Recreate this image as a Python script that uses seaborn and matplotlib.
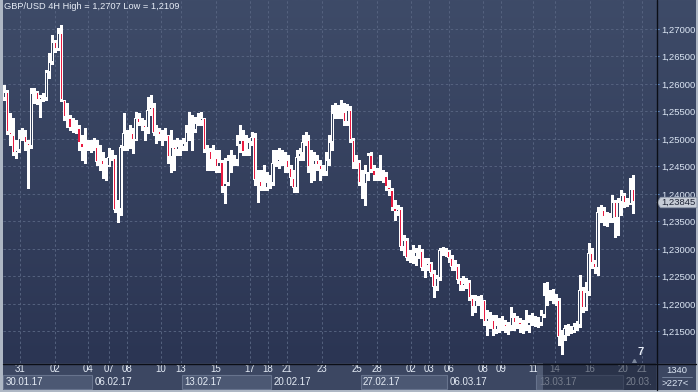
import numpy as np
import pandas as pd
import matplotlib
matplotlib.use("Agg")
from matplotlib import pyplot as plt
from matplotlib.colors import LinearSegmentedColormap
from matplotlib.patches import Rectangle, Polygon
from matplotlib.lines import Line2D
from matplotlib.ticker import FuncFormatter
import matplotlib.transforms as mtransforms
import seaborn as sns

# GBP/USD 4H candles
first_open = 1.2575
closes = [1.2585, 1.2513, 1.2507, 1.2475, 1.2480, 1.2502, 1.2505, 1.2493, 1.2487, 1.2584,
          1.2585, 1.2571, 1.2576, 1.2575, 1.2622, 1.2640, 1.2676, 1.2664, 1.2693, 1.2571,
          1.2540, 1.2538, 1.2520, 1.2522, 1.2520, 1.2493, 1.2484, 1.2485, 1.2485, 1.2489,
          1.2485, 1.2458, 1.2462, 1.2453, 1.2451, 1.2467, 1.2465, 1.2371, 1.2373, 1.2485,
          1.2511, 1.2507, 1.2511, 1.2498, 1.2538, 1.2529, 1.2525, 1.2520, 1.2553, 1.2558,
          1.2511, 1.2515, 1.2507, 1.2504, 1.2507, 1.2467, 1.2485, 1.2480, 1.2487, 1.2485,
          1.2493, 1.2513, 1.2515, 1.2516, 1.2529, 1.2533, 1.2538, 1.2480, 1.2478, 1.2462,
          1.2465, 1.2449, 1.2458, 1.2413, 1.2420, 1.2462, 1.2458, 1.2462, 1.2489, 1.2498,
          1.2476, 1.2480, 1.2495, 1.2504, 1.2425, 1.2423, 1.2413, 1.2411, 1.2422, 1.2420,
          1.2456, 1.2458, 1.2464, 1.2465, 1.2462, 1.2447, 1.2429, 1.2411, 1.2467, 1.2475,
          1.2495, 1.2498, 1.2449, 1.2453, 1.2462, 1.2453, 1.2444, 1.2440, 1.2462, 1.2495,
          1.2547, 1.2549, 1.2547, 1.2549, 1.2531, 1.2553, 1.2498, 1.2456, 1.2458, 1.2420,
          1.2418, 1.2438, 1.2471, 1.2444, 1.2433, 1.2435, 1.2431, 1.2433, 1.2413, 1.2407,
          1.2375, 1.2367, 1.2373, 1.2304, 1.2316, 1.2284, 1.2287, 1.2285, 1.2295, 1.2296,
          1.2265, 1.2269, 1.2275, 1.2256, 1.2231, 1.2247, 1.2298, 1.2300, 1.2296, 1.2284,
          1.2267, 1.2269, 1.2244, 1.2233, 1.2238, 1.2240, 1.2211, 1.2195, 1.2207, 1.2205,
          1.2208, 1.2167, 1.2175, 1.2171, 1.2153, 1.2162, 1.2165, 1.2164, 1.2158, 1.2160,
          1.2176, 1.2165, 1.2167, 1.2162, 1.2158, 1.2160, 1.2167, 1.2171, 1.2169, 1.2165,
          1.2180, 1.2216, 1.2218, 1.2215, 1.2211, 1.2207, 1.2140, 1.2142, 1.2156, 1.2153,
          1.2151, 1.2160, 1.2162, 1.2225, 1.2193, 1.2222, 1.2293, 1.2275, 1.2265, 1.2367,
          1.2371, 1.2358, 1.2356, 1.2355, 1.2385, 1.2356, 1.2385, 1.2398, 1.2384, 1.2382,
          1.2409, 1.2385]
highs = [1.2598, 1.2589, 1.2547, 1.2538, 1.2498, 1.2516, 1.2520, 1.2516, 1.2498, 1.2593,
         1.2593, 1.2587, 1.2580, 1.2584, 1.2625, 1.2656, 1.2689, 1.2680, 1.2702, 1.2707,
         1.2571, 1.2565, 1.2544, 1.2538, 1.2535, 1.2525, 1.2507, 1.2520, 1.2498, 1.2498,
         1.2502, 1.2498, 1.2489, 1.2476, 1.2465, 1.2484, 1.2480, 1.2471, 1.2389, 1.2489,
         1.2547, 1.2516, 1.2525, 1.2520, 1.2549, 1.2547, 1.2538, 1.2535, 1.2576, 1.2580,
         1.2565, 1.2525, 1.2520, 1.2516, 1.2520, 1.2507, 1.2516, 1.2498, 1.2502, 1.2498,
         1.2502, 1.2525, 1.2549, 1.2544, 1.2540, 1.2547, 1.2549, 1.2538, 1.2489, 1.2484,
         1.2489, 1.2480, 1.2480, 1.2462, 1.2465, 1.2471, 1.2480, 1.2471, 1.2507, 1.2525,
         1.2516, 1.2507, 1.2502, 1.2513, 1.2511, 1.2444, 1.2444, 1.2453, 1.2440, 1.2435,
         1.2480, 1.2480, 1.2484, 1.2480, 1.2476, 1.2471, 1.2453, 1.2444, 1.2480, 1.2484,
         1.2507, 1.2513, 1.2507, 1.2480, 1.2476, 1.2471, 1.2462, 1.2453, 1.2476, 1.2507,
         1.2562, 1.2565, 1.2562, 1.2571, 1.2565, 1.2564, 1.2560, 1.2502, 1.2471, 1.2462,
         1.2444, 1.2453, 1.2475, 1.2476, 1.2453, 1.2447, 1.2471, 1.2444, 1.2440, 1.2425,
         1.2411, 1.2389, 1.2380, 1.2376, 1.2325, 1.2320, 1.2298, 1.2307, 1.2302, 1.2307,
         1.2300, 1.2284, 1.2284, 1.2276, 1.2262, 1.2253, 1.2302, 1.2304, 1.2302, 1.2298,
         1.2289, 1.2280, 1.2273, 1.2247, 1.2251, 1.2247, 1.2244, 1.2216, 1.2216, 1.2215,
         1.2216, 1.2207, 1.2189, 1.2185, 1.2180, 1.2180, 1.2175, 1.2178, 1.2171, 1.2167,
         1.2195, 1.2184, 1.2178, 1.2175, 1.2171, 1.2189, 1.2180, 1.2184, 1.2178, 1.2176,
         1.2189, 1.2238, 1.2240, 1.2225, 1.2227, 1.2218, 1.2211, 1.2153, 1.2162, 1.2164,
         1.2160, 1.2165, 1.2169, 1.2253, 1.2231, 1.2240, 1.2311, 1.2302, 1.2280, 1.2376,
         1.2380, 1.2376, 1.2367, 1.2365, 1.2398, 1.2389, 1.2393, 1.2407, 1.2402, 1.2393,
         1.2429, 1.2435]
lows = [1.2571, 1.2509, 1.2489, 1.2471, 1.2465, 1.2476, 1.2498, 1.2480, 1.2411, 1.2484,
        1.2565, 1.2564, 1.2540, 1.2569, 1.2571, 1.2611, 1.2636, 1.2658, 1.2662, 1.2569,
        1.2535, 1.2522, 1.2516, 1.2513, 1.2511, 1.2480, 1.2462, 1.2456, 1.2480, 1.2476,
        1.2480, 1.2453, 1.2444, 1.2429, 1.2425, 1.2451, 1.2462, 1.2367, 1.2349, 1.2362,
        1.2480, 1.2480, 1.2484, 1.2475, 1.2498, 1.2525, 1.2516, 1.2498, 1.2511, 1.2544,
        1.2507, 1.2493, 1.2498, 1.2489, 1.2498, 1.2456, 1.2440, 1.2444, 1.2471, 1.2471,
        1.2480, 1.2480, 1.2498, 1.2480, 1.2513, 1.2525, 1.2525, 1.2476, 1.2444, 1.2444,
        1.2444, 1.2440, 1.2440, 1.2404, 1.2384, 1.2416, 1.2440, 1.2453, 1.2453, 1.2476,
        1.2471, 1.2471, 1.2471, 1.2489, 1.2416, 1.2385, 1.2407, 1.2407, 1.2407, 1.2411,
        1.2416, 1.2451, 1.2447, 1.2453, 1.2440, 1.2440, 1.2416, 1.2404, 1.2404, 1.2462,
        1.2462, 1.2489, 1.2440, 1.2422, 1.2425, 1.2444, 1.2425, 1.2435, 1.2435, 1.2453,
        1.2480, 1.2538, 1.2538, 1.2538, 1.2525, 1.2525, 1.2495, 1.2447, 1.2447, 1.2416,
        1.2393, 1.2380, 1.2425, 1.2440, 1.2425, 1.2425, 1.2425, 1.2422, 1.2407, 1.2398,
        1.2371, 1.2353, 1.2362, 1.2298, 1.2289, 1.2280, 1.2276, 1.2275, 1.2271, 1.2284,
        1.2262, 1.2249, 1.2262, 1.2251, 1.2213, 1.2225, 1.2244, 1.2289, 1.2287, 1.2276,
        1.2262, 1.2262, 1.2238, 1.2225, 1.2225, 1.2229, 1.2207, 1.2180, 1.2185, 1.2198,
        1.2175, 1.2162, 1.2144, 1.2156, 1.2144, 1.2147, 1.2149, 1.2153, 1.2149, 1.2145,
        1.2153, 1.2153, 1.2156, 1.2149, 1.2147, 1.2153, 1.2149, 1.2162, 1.2160, 1.2158,
        1.2162, 1.2176, 1.2198, 1.2207, 1.2202, 1.2198, 1.2125, 1.2109, 1.2135, 1.2144,
        1.2147, 1.2149, 1.2153, 1.2158, 1.2185, 1.2189, 1.2216, 1.2265, 1.2256, 1.2253,
        1.2349, 1.2344, 1.2342, 1.2349, 1.2349, 1.2322, 1.2325, 1.2362, 1.2376, 1.2378,
        1.2382, 1.2365]

day_labels = ['31', '02', '04', '07', '08', '10', '13', '15', '17', '18', '21', '23',
              '25', '28', '02', '03', '06', '08', '09', '11', '14', '16', '20', '21']
day_idx = [5.2, 16.9, 28.0, 35.1, 41.1, 52.5, 59.2, 71.0, 82.4, 88.4, 94.8, 106.5,
           118.3, 125.0, 136.4, 142.4, 149.2, 160.6, 166.6, 177.3, 184.7, 196.5, 207.6, 213.9]
week_labels = ['30.01.17', '06.02.17', '13.02.17', '20.02.17',
               '27.02.17', '06.03.17', '13.03.17', '20.03.']
week_start = [0, 30, 60, 90, 120, 149, 179, 208]
price_ticks = [1.215, 1.220, 1.225, 1.230, 1.235, 1.240, 1.245, 1.250,
               1.255, 1.260, 1.265, 1.270]
last_price = 1.23845
title = 'GBP/USD 4H High = 1,2707 Low = 1,2109'

sns.set_style("dark")
plt.rcParams['font.family'] = ['Liberation Sans', 'DejaVu Sans']

df = pd.DataFrame({'close': closes, 'high': highs, 'low': lows})
df['open'] = [first_open] + closes[:-1]
df['high'] = np.maximum(df.high, df[['open', 'close']].max(axis=1))
df['low'] = np.minimum(df.low, df[['open', 'close']].min(axis=1))
df['up'] = df.close >= df.open
x = np.arange(len(df))

W, H = 698, 392
fig = plt.figure(figsize=(W / 100, H / 100), dpi=100, facecolor='#aeb7c4')


def box(x0, y0, x1, y1):
    return [x0 / W, 1 - y1 / H, (x1 - x0) / W, (y1 - y0) / H]


# gradient background behind chart + price scale
bg = fig.add_axes(box(3, 0, 696, 363))
cmap = LinearSegmentedColormap.from_list('bg', ['#2b3553', '#3e4b68'])
bg.imshow(np.linspace(0, 1, 256).reshape(-1, 1), cmap=cmap, aspect='auto',
          origin='lower', extent=[0, 1, 0, 1])
bg.axis('off')

XMIN, XMAX = -0.5, 218.6
YMIN, YMAX = 1.20927, 1.27527
PX = (YMAX - YMIN) / 363  # one pixel in price units

ax = fig.add_axes(box(3, 0, 656, 363))
ax.set_facecolor('none')
ax.set_xlim(XMIN, XMAX)
ax.set_ylim(YMIN, YMAX)
for s in ax.spines.values():
    s.set_visible(False)
ax.set_yticks(price_ticks)
ax.set_xticks(day_idx)
ax.yaxis.set_major_formatter(FuncFormatter(lambda v, _: f"{v:.5f}".replace('.', ',')))
ax.yaxis.tick_right()
ax.tick_params(axis='y', length=2, width=0.8, color='#6f9fe0', pad=2,
               labelsize=6.8, labelcolor='#dce6f4', right=True, left=False)
ax.tick_params(axis='x', length=0, labelbottom=False)
ax.grid(True, color='#55627f', linestyle=(0, (2.5, 2.5)), linewidth=0.7)
ax.set_axisbelow(True)

# candles: wick, white body frame, coloured core
ax.vlines(x, df.low, df.high, color='white', linewidth=0.75, zorder=3, antialiased=False)
top = df[['open', 'close']].max(axis=1)
bottom = df[['open', 'close']].min(axis=1)
outer = (top - bottom).clip(lower=PX)
ax.bar(x, outer, bottom=bottom, width=0.95, color='white', linewidth=0,
       zorder=4, antialiased=False)
inner = (top - bottom - 2 * PX)
core = inner > 0
fill = np.where(df.up, '#33405d', '#ea1a40')
ax.bar(x[core], inner[core], bottom=bottom[core] + PX, width=0.4,
       color=fill[core], linewidth=0, zorder=5, antialiased=False)

fig.text(4 / W, 1 - 2 / H, title, ha='left', va='top', fontsize=6.7, color='#e6ecf6')

# last price marker
tr = mtransforms.blended_transform_factory(ax.transAxes, ax.transData)
dy = 0.00095
ax.add_patch(Polygon([[1.0015, last_price], [1.007, last_price + dy], [1.0628, last_price + dy],
                      [1.0628, last_price - dy], [1.007, last_price - dy]],
                     closed=True, transform=tr, facecolor='#c6ccd6', edgecolor='#8d97a8',
                     linewidth=0.6, clip_on=False, zorder=6))
ax.text(1.035, last_price, f"{last_price:.5f}".replace('.', ','), transform=tr,
        ha='center', va='center', fontsize=6.8, color='#1c2233', zorder=7)

ax.text((641 - 3) / 653, 0.016, '7', transform=ax.transAxes, ha='center', va='bottom',
        fontsize=8, color='#e8eef8', fontweight='bold')
ax.plot([(634 - 3) / 653], [0.006], marker='^', markersize=3, color='#7b879c',
        transform=ax.transAxes, clip_on=False)

# date scale
bot = fig.add_axes(box(3, 363, 656, 390))
bot.set_facecolor('#3c4762')
bot.set_xlim(XMIN, XMAX)
bot.set_ylim(0, 1)
bot.set_xticks([])
bot.set_yticks([])
for s in bot.spines.values():
    s.set_visible(False)
ends = week_start[1:] + [XMAX + 0.5]
for k, (lab, st, en) in enumerate(zip(week_labels, week_start, ends)):
    if k % 2 == 0:
        bot.add_patch(Rectangle((st - 0.5, 0.04), en - st, 0.5, facecolor='#4c5873',
                                edgecolor='#67738d', linewidth=0.8))
    bot.text(st + 0.3, 0.29, lab, ha='left', va='center', fontsize=7, color='#e4ebf5')
for lab, pos in zip(day_labels, day_idx):
    bot.text(pos, 0.76, lab, ha='center', va='center', fontsize=7, color='#e4ebf5')
shade_start = (537 - 4.5) / 2.98
bot.add_patch(Rectangle((shade_start, 0), XMAX - shade_start, 1, facecolor='#1c2438',
                        alpha=0.55, edgecolor='none', zorder=5))
bot.add_patch(Rectangle((shade_start, 0), 2, 1, facecolor='#6a7690', alpha=0.6,
                        edgecolor='none', zorder=6))

corner = fig.add_axes(box(656, 363, 696, 390))
corner.set_facecolor('#3c4762')
corner.set_xticks([])
corner.set_yticks([])
for s in corner.spines.values():
    s.set_visible(False)
corner.text(0.52, 0.74, '1340', ha='center', va='center', fontsize=6.8, color='#dce6f4')
corner.plot([0.15, 0.9], [0.47, 0.47], color='#7d8aa3', linewidth=0.6)
corner.text(0.48, 0.24, '>227<', ha='center', va='center', fontsize=6.8, color='#dce6f4')
corner.set_xlim(0, 1)
corner.set_ylim(0, 1)

fig.add_artist(Line2D([656.5 / W, 656.5 / W], [1 - 390 / H, 1], color='#0b0e16', linewidth=1))
fig.add_artist(Line2D([3 / W, 696 / W], [1 - 363.5 / H, 1 - 363.5 / H], color='#0b0e16', linewidth=1))

fig.savefig('out.png', dpi=100, facecolor=fig.get_facecolor())
